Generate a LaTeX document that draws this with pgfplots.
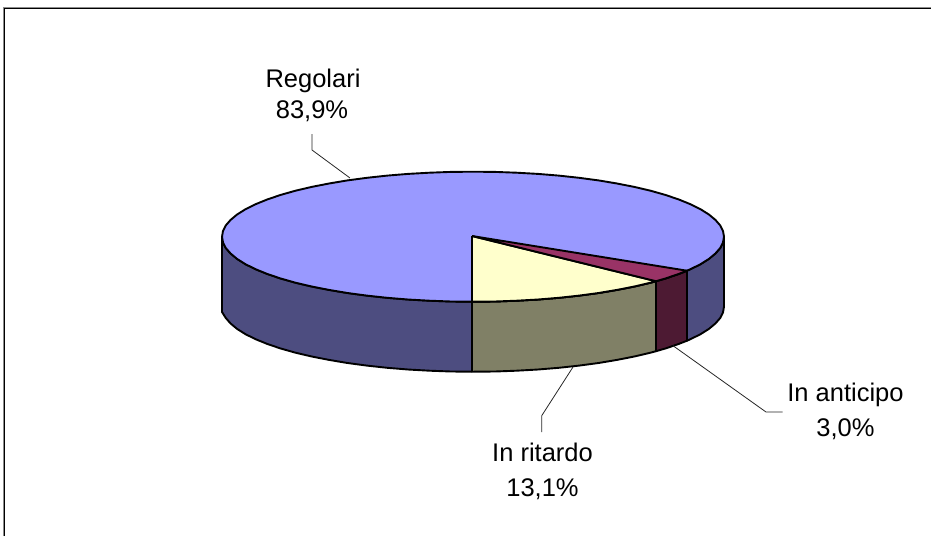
\documentclass[border=0pt]{standalone}
\usepackage{pgfplots}
\pgfplotsset{compat=1.18}
\usepackage{fontspec}
\setmainfont{Liberation Sans}
\definecolor{blueTop}{HTML}{9999FF}
\definecolor{blueSide}{HTML}{4D4D80}
\definecolor{yelTop}{HTML}{FFFFCC}
\definecolor{yelSide}{HTML}{808066}
\definecolor{redTop}{HTML}{993366}
\definecolor{redSide}{HTML}{4D1A33}
\tikzset{
  edge/.style={draw=black, line width=1.9pt},
  lead/.style={draw=black!85, line width=0.8pt},
  lbl/.style={font=\fontsize{25.5}{30}\selectfont, anchor=base, text=black, inner sep=0pt}
}
\begin{document}
\begin{tikzpicture}
\path[use as bounding box] (0,0) rectangle (931pt,536pt);
\begin{axis}[
  at={(0,0)}, anchor=south west,
  scale only axis, width=931pt, height=536pt,
  xmin=0, xmax=931, ymin=0, ymax=536, y dir=reverse,
  axis lines=none, clip=false,
  every axis plot/.append style={line join=round}
]
% frame
\addplot[black!45, line width=1pt] coordinates {(3.2,536) (3.2,7.2) (931,7.2)};
\addplot[black, line width=1pt] coordinates {(4.4,536) (4.4,8.4) (931,8.4)};
% left blue side
\addplot[fill=blueSide, edge] coordinates {
(472,371.7)(451.1,371.5)(429.4,370.7)(408,369.5)(387.2,367.8)(366.9,365.6)(347.5,363)(329,359.9)(311.7,356.5)(295.5,352.7)(280.7,348.5)(267.4,344)(255.6,339.2)(245.5,334.2)(237.1,328.9)(230.6,323.5)(225.8,318)(222,312)
(222,236.7)(223,242.4)(225.8,248)(230.6,253.5)(237.1,258.9)(245.5,264.2)(255.6,269.2)(267.4,274)(280.7,278.5)(295.5,282.7)(311.7,286.5)(329,289.9)(347.5,293)(366.9,295.6)(387.2,297.8)(408,299.5)(429.4,300.7)(451.1,301.5)(472,301.7)(472,371.7)};
% right blue side
\addplot[fill=blueSide, edge] coordinates {
(687,270.7)(690.4,269.2)(700.5,264.2)(708.9,258.9)(715.4,253.5)(720.2,248)(723,242.4)(724,236.7)
(724,306.7)(723,312.4)(720.2,318)(715.4,323.5)(708.9,328.9)(700.5,334.2)(690.4,339.2)(687,340.7)(687,270.7)};
% yellow side
\addplot[fill=yelSide, edge] coordinates {
(472,301.7)(473,301.7)(494.9,301.5)(516.6,300.7)(538,299.5)(558.8,297.8)(579.1,295.6)(598.5,293)(617,289.9)(634.3,286.5)(650.5,282.7)(656,281.2)
(656,351.2)(650.5,352.7)(634.3,356.5)(617,359.9)(598.5,363)(579.1,365.6)(558.8,367.8)(538,369.5)(516.6,370.7)(494.9,371.5)(473,371.7)(472,371.7)(472,301.7)};
% red side
\addplot[fill=redSide, edge] coordinates {
(656,281.2)(665.3,278.5)(678.6,274)(687,270.7)(687,340.7)(678.6,344)(665.3,348.5)(656,351.2)(656,281.2)};
% top ellipse (blue slice)
\addplot[fill=blueTop, edge] coordinates {
(724,236.7)(723,242.4)(720.2,248)(715.4,253.5)(708.9,258.9)(700.5,264.2)(690.4,269.2)(678.6,274)(665.3,278.5)(650.5,282.7)(634.3,286.5)(617,289.9)(598.5,293)(579.1,295.6)(558.8,297.8)(538,299.5)(516.6,300.7)(494.9,301.5)(473,301.7)
(451.1,301.5)(429.4,300.7)(408,299.5)(387.2,297.8)(366.9,295.6)(347.5,293)(329,289.9)(311.7,286.5)(295.5,282.7)(280.7,278.5)(267.4,274)(255.6,269.2)(245.5,264.2)(237.1,258.9)(230.6,253.5)(225.8,248)(223,242.4)(222,236.7)
(223,231)(225.8,225.4)(230.6,219.9)(237.1,214.5)(245.5,209.2)(255.6,204.2)(267.4,199.4)(280.7,194.9)(295.5,190.7)(311.7,186.9)(329,183.5)(347.5,180.4)(366.9,177.8)(387.2,175.6)(408,173.9)(429.4,172.7)(451.1,171.9)(473,171.7)
(494.9,171.9)(516.6,172.7)(538,173.9)(558.8,175.6)(579.1,177.8)(598.5,180.4)(617,183.5)(634.3,186.9)(650.5,190.7)(665.3,194.9)(678.6,199.4)(690.4,204.2)(700.5,209.2)(708.9,214.5)(715.4,219.9)(720.2,225.4)(723,231)(724,236.7)};
% yellow slice
\addplot[fill=yelTop, edge] coordinates {
(472,236)(472,301.7)(494.9,301.5)(516.6,300.7)(538,299.5)(558.8,297.8)(579.1,295.6)(598.5,293)(617,289.9)(634.3,286.5)(650.5,282.7)(656,281.2)(472,236)};
% red slice
\addplot[fill=redTop, edge] coordinates {
(472,236)(656,281.2)(665.3,278.5)(678.6,274)(687,270.7)(472,236)};
% leader lines
\addplot[lead] coordinates {(312,134)(312,150)(350,178)};
\addplot[lead] coordinates {(541.7,432)(541.7,415.7)(573,367)};
\addplot[lead] coordinates {(782.7,412)(766,412)(673,345.7)};
% labels
\node[lbl] at (axis cs:313,87) {Regolari};
\node[lbl] at (axis cs:312,118) {83,9\%};
\node[lbl] at (axis cs:542.5,461.7) {In ritardo};
\node[lbl] at (axis cs:542.5,496) {13,1\%};
\node[lbl] at (axis cs:845.5,401.7) {In anticipo};
\node[lbl] at (axis cs:845.5,436) {3,0\%};
\end{axis}
\end{tikzpicture}
\end{document}
